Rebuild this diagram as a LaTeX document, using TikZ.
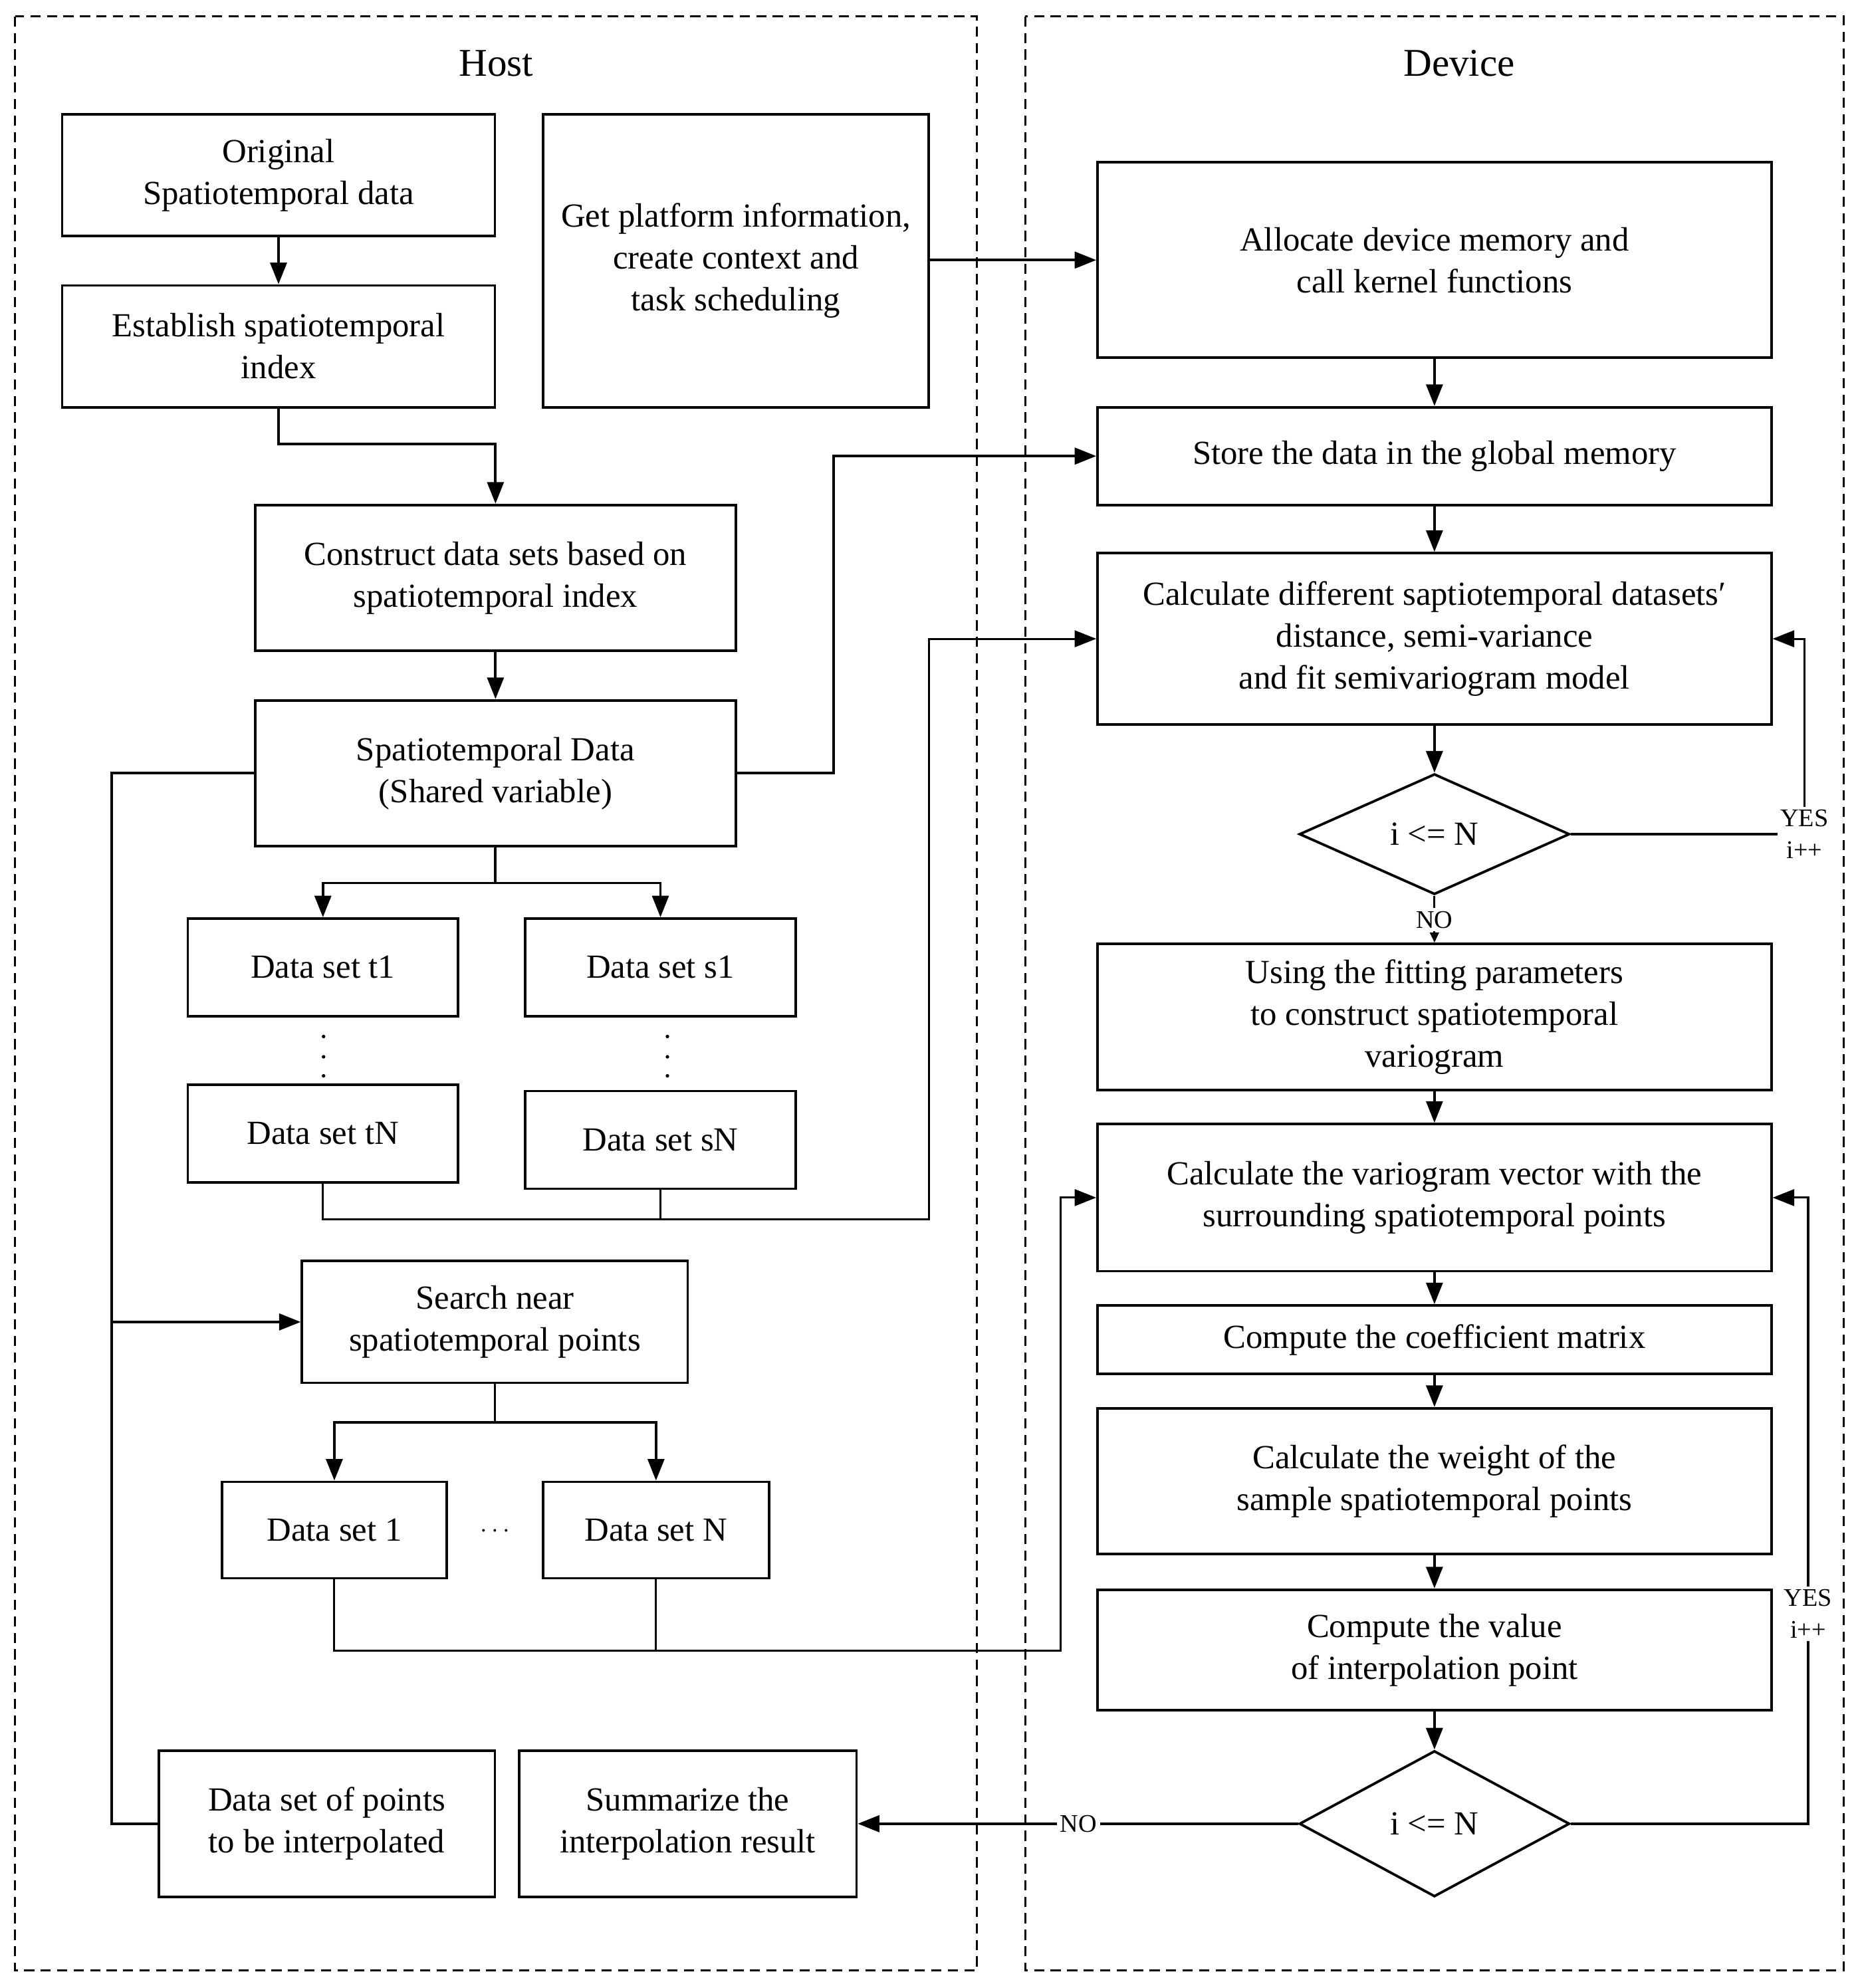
\documentclass[tikz,border=0pt]{standalone}
\usepackage{fontspec}
\setmainfont{Liberation Serif}
\usetikzlibrary{arrows.meta,shapes.geometric}
\tikzset{
  box/.style={draw,line width=1pt,inner sep=1pt,align=center,font=\fontsize{13.3}{16.5}\selectfont},
  dia/.style={draw,diamond,line width=1pt,inner sep=0pt,font=\fontsize{13.3}{16.5}\selectfont},
  lbl/.style={inner sep=1pt,align=center,font=\fontsize{10}{12.5}\selectfont},
  ttl/.style={font=\fontsize{15.5}{18}\selectfont},
  frame/.style={dashed,dash pattern=on 4pt off 2.5pt,line width=0.75pt},
  con/.style={line width=1pt},
  thn/.style={line width=0.8pt},
  arr/.style={line width=1pt,-{Triangle[length=8.5pt,width=6.5pt]}},
  sarr/.style={line width=0.8pt,-{Triangle[length=4pt,width=3.5pt]}}
}
\newcommand\bx[6]{\node[box,minimum width={(#4-#2)*0.5pt},minimum height={(#5-#3)*0.5pt}] (#1) at ({(#2+#4)/2},{(#3+#5)/2}) {#6};}
\begin{document}
\begin{tikzpicture}[x=0.5pt,y=-0.5pt]
\useasboundingbox (0,0) rectangle (1464,1567);
% frames
\draw[frame] (12,13) rectangle (770,1553);
\draw[frame] (808,13) rectangle (1453,1553);
\node[ttl] (host) at (391,50) {Host};
\node[ttl] (device) at (1150,50) {Device};
% host boxes
\bx{orig}{49}{90}{390}{186}{Original\\Spatiotemporal data}
\bx{estab}{49}{225}{390}{321}{Establish spatiotemporal\\index}
\bx{getp}{428}{90}{732}{321}{Get platform information,\\create context and\\task scheduling}
\bx{constr}{201}{398}{580}{513}{Construct data sets based on\\spatiotemporal index}
\bx{sd}{201}{552}{580}{667}{Spatiotemporal Data\\(Shared variable)}
\bx{t1}{148}{724}{361}{801}{Data set t1}
\bx{s1}{414}{724}{627}{801}{Data set s1}
\bx{tN}{148}{855}{361}{932}{Data set tN}
\bx{sN}{414}{860}{627}{937}{Data set sN}
\bx{search}{238}{994}{542}{1090}{Search near\\spatiotemporal points}
\bx{ds1}{175}{1168}{352}{1244}{Data set 1}
\bx{dsN}{428}{1168}{606}{1244}{Data set N}
\node[lbl] (ell) at (390,1207) {$\cdots$};
\bx{dpts}{125}{1380}{390}{1495}{Data set of points\\to be interpolated}
\bx{summ}{409}{1380}{675}{1495}{Summarize the\\interpolation result}
\foreach \yy in {817,833,848}{\fill (255,\yy) circle (0.7pt); \fill (526,\yy) circle (0.7pt);}
% device boxes
\bx{alloc}{865}{128}{1396}{282}{Allocate device memory and\\call kernel functions}
\bx{store}{865}{321}{1396}{398}{Store the data in the global memory}
\bx{calcd}{865}{436}{1396}{571}{Calculate different saptiotemporal datasets′\\distance, semi-variance\\and fit semivariogram model}
\node[dia,minimum width=106.5pt,minimum height=47.5pt] (d1) at (1130.5,657.5) {i <= N};
\bx{using}{865}{744}{1396}{859}{Using the fitting parameters\\to construct spatiotemporal\\variogram}
\bx{calcv}{865}{886}{1396}{1002}{Calculate the variogram vector with the\\surrounding spatiotemporal points}
\bx{coef}{865}{1029}{1396}{1083}{Compute the coefficient matrix}
\bx{weight}{865}{1110}{1396}{1225}{Calculate the weight of the\\sample spatiotemporal points}
\bx{value}{865}{1253}{1396}{1348}{Compute the value\\of interpolation point}
\node[dia,minimum width=106.5pt,minimum height=57.5pt] (d2) at (1130.5,1437.5) {i <= N};
% labels
\node[lbl] (yes1) at (1422,657.5) {YES\\i++};
\node[lbl] (no1) at (1130.5,725) {NO};
\node[lbl] (yes2) at (1425,1272) {YES\\i++};
\node[lbl] (no2) at (850,1437.5) {NO};
\coordinate (L) at (88,0);
\coordinate (J1) at (732,961);
\coordinate (J2) at (836,1301);
% host connectors
\draw[arr] (orig) -- (estab);
\draw[arr] (estab.south) -- ++(0,28) -| (constr.north);
\draw[arr] (constr) -- (sd);
\draw[arr] (getp.east |- alloc.west) -- (alloc.west);
\draw[arr] (sd.east) -- ++(76,0) |- (store.west);
\draw[con] (sd.west) -| (L |- dpts.west) -- (dpts.west);
\draw[arr] (L |- search.west) -- (search.west);
\draw[con] (sd.south) -- ++(0,28) coordinate (b1);
\draw[arr] (b1) -| (t1.north);
\draw[arr] (b1) -| (s1.north);
\draw[arr,line width=0.8pt] (tN.south) |- (J1) |- (calcd.west);
\draw[thn] (sN.south) -- (sN.south |- J1);
\draw[con] (search.south) -- ++(0,30) coordinate (b2);
\draw[arr] (b2) -| (ds1.north);
\draw[arr] (b2) -| (dsN.north);
\draw[arr,line width=0.8pt] (ds1.south) |- (J2) |- (calcv.west);
\draw[thn] (dsN.south) -- (dsN.south |- J2);
% device connectors
\draw[arr] (alloc) -- (store);
\draw[arr] (store) -- (calcd);
\draw[arr] (calcd) -- (d1);
\draw[thn] (d1.east) -- (yes1.west);
\draw[arr,line width=0.8pt] (yes1.north) |- (calcd.east);
\draw[thn] (d1.south) -- (no1.north);
\draw[sarr] (no1.south) -- (using.north);
\draw[arr] (using) -- (calcv);
\draw[arr] (calcv) -- (coef);
\draw[arr] (coef) -- (weight);
\draw[arr] (weight) -- (value);
\draw[arr] (value) -- (d2);
\draw[con] (d2.east) -| (yes2.south);
\draw[arr,line width=0.8pt] (yes2.north) |- (calcv.east);
\draw[con] (d2.west) -- (no2.east);
\draw[arr] (no2.west) -- (summ.east);
\end{tikzpicture}
\end{document}
